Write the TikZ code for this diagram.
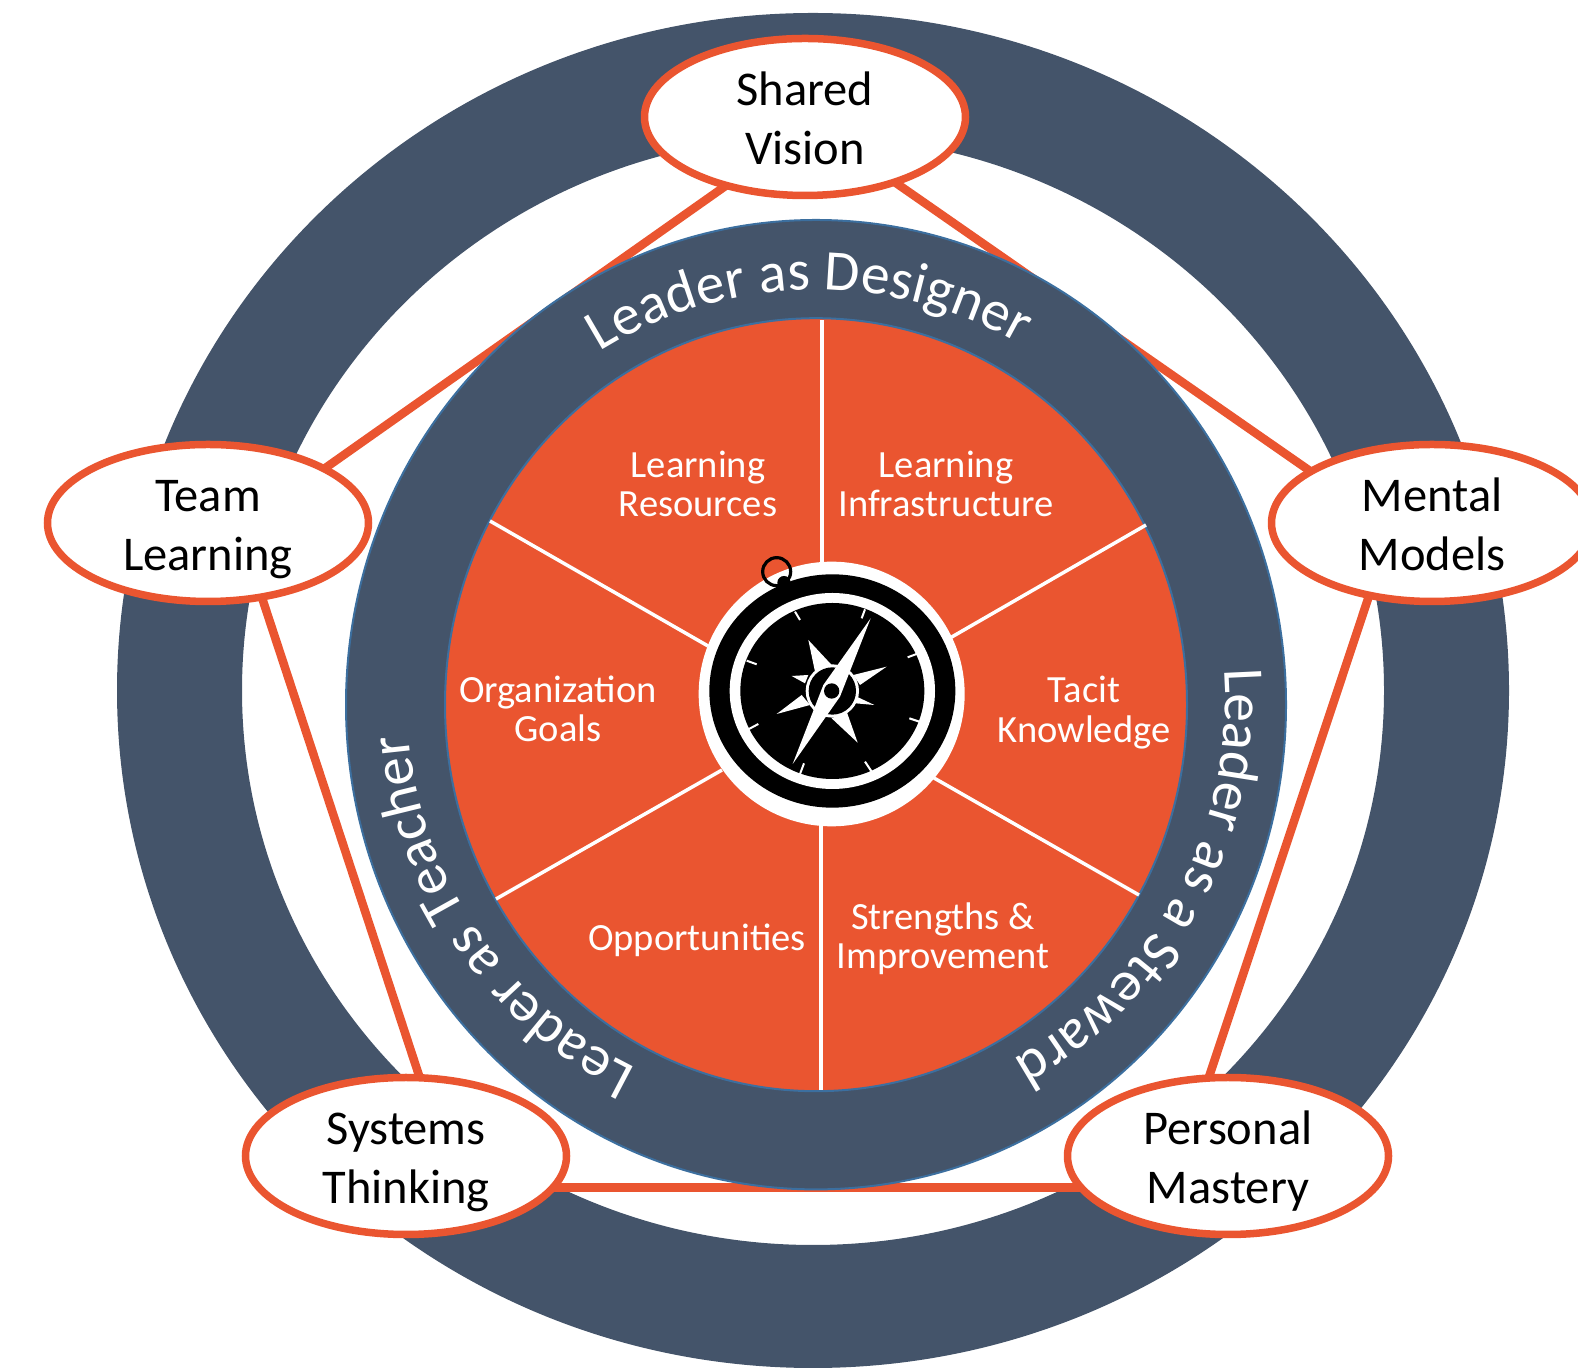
\documentclass[tikz,border=0pt]{standalone}
\usepackage{fontspec}
\setmainfont{Carlito}
\usetikzlibrary{shapes.geometric,decorations.text}
\definecolor{slatebg}{HTML}{44546A}
\definecolor{rust}{HTML}{EA5530}
\definecolor{ringedge}{HTML}{3C6F9F}
\pgfdeclarelayer{base}\pgfdeclarelayer{conn}\pgfdeclarelayer{mid}
\pgfsetlayers{base,conn,mid,main}
\newcommand\ringfont{\fontsize{57.5}{62}\selectfont}
\newcommand\lstrut{\rule[-10pt]{0pt}{56.5pt}}
\tikzset{
 discipline/.style={ellipse,draw=rust,line width=7.5pt,fill=white,minimum width=321pt,minimum height=157pt,inner xsep=0pt,inner ysep=-2.5pt,outer sep=0pt,align=center,text=black,font=\fontsize{48.5}{58.5}\selectfont},
 link/.style={draw=rust,line width=8.5pt},
 spoke/.style={draw=white,line width=3.5pt},
 wedge label/.style={text=white,align=center,inner sep=0pt,font=\fontsize{38.5}{39.5}\selectfont},
 ring text/.style={decorate,decoration={text along path,text align=center,text color=white,text={|\ringfont|#1}}},
}
\begin{document}
\begin{tikzpicture}[x=1pt,y=1pt]
\useasboundingbox (0,0) rectangle (1578,1367);
\begin{scope}[y=-1pt,yshift=1367pt]
 % discipline ellipses
 \node[discipline] (sv) at (805,117) {Shared\lstrut\\Vision\lstrut};
 \node[discipline] (tl) at (208,523) {Team\lstrut\\Learning\lstrut};
 \node[discipline] (mm) at (1432,523) {Mental\lstrut\\Models\lstrut};
 \node[discipline] (st) at (406,1156) {Systems\lstrut\\Thinking\lstrut};
 \node[discipline] (pm) at (1228,1156) {Personal\lstrut\\Mastery\lstrut};

 \begin{pgfonlayer}{base}
  \fill[slatebg,even odd rule] (813,690.5) ellipse [x radius=696,y radius=677.5]
      (813,690.5) ellipse [x radius=571,y radius=554.5];
 \end{pgfonlayer}

 \begin{pgfonlayer}{conn}
  \draw[link] (sv.221) -- (tl.25);
  \draw[link] (sv.-36) -- (mm.157);
  \draw[link] (tl.-54.5) -- (st.80.6);
  \draw[link] (mm.229) -- (pm.104);
  \draw[link] (st.-12.4) -- (pm.192.4);
 \end{pgfonlayer}

 \begin{pgfonlayer}{mid}
  \filldraw[fill=slatebg,draw=ringedge,line width=2pt] (816,704.7) ellipse [x radius=470,y radius=484.7];
  \filldraw[fill=rust,draw=ringedge,line width=2pt] (816,704.7) ellipse [x radius=371,y radius=386.5];
  \coordinate (s1a) at (822,320); \coordinate (s1b) at (822,565);
  \coordinate (s2a) at (1146,525); \coordinate (s2b) at (950,638);
  \coordinate (s3a) at (1139,895); \coordinate (s3b) at (934,778);
  \coordinate (s4a) at (821,1090); \coordinate (s4b) at (821,820);
  \coordinate (s5a) at (496,899); \coordinate (s5b) at (722,770);
  \coordinate (s6a) at (490,521); \coordinate (s6b) at (708,646);
  \foreach \i in {1,...,6} \draw[spoke] (s\i a) -- (s\i b);
  % compass, drawn in the coordinates of a 3x crop
  \begin{scope}[shift={(680,540)},x=0.33333pt,y=-0.33333pt]
   \fill[white] (455,462) ellipse [x radius=399,y radius=397];
   \draw[black,line width=3.2pt] (290,95) circle [radius=42];
   \fill[black] (312,128) circle [radius=20];
   \fill[black] (457,453) ellipse [x radius=369,y radius=350];
   \fill[white] (457,453) ellipse [x radius=308,y radius=294];
   \fill[black] (457,453) ellipse [x radius=276,y radius=264];
   \foreach \a/\b/\c/\d in {345/215/360/240,555/208/545/235,683/352/715/340,688/535/718/545,555/665/575/695,372/670/360/702,200/362/230/373,235/552/205/568}
     \draw[white,line width=2pt] (\a,\b) -- (\c,\d);
   \fill[white] (385,300) -- (455,375) -- (405,395) -- cycle;
   \fill[white] (620,380) -- (540,435) -- (520,405) -- cycle;
   \fill[white] (533,608) -- (455,535) -- (500,515) -- cycle;
   \fill[white] (290,522) -- (365,465) -- (390,495) -- cycle;
   \fill[white] (335,408) -- (385,405) -- (375,430) -- cycle;
   \fill[white] (583,495) -- (530,470) -- (527,490) -- cycle;
   \fill[white] (457,453) circle [radius=80];
   \fill[black] (457,453) circle [radius=71];
   \fill[white] (572,235) -- (480,470) -- (338,672) -- (430,435) -- cycle;
   \fill[black] (455,453) circle [radius=23];
  \end{scope}
 \end{pgfonlayer}

 % wedge labels
 \node[wedge label] (w1) at (698,484) {Learning\\Resources};
 \node[wedge label] (w2) at (946,484) {Learning\\Infrastructure};
 \node[wedge label] (w3) at (1084,712.5) {Tacit\\Knowledge};
 \node[wedge label] (w4) at (943,938.5) {Strengths \&\\Improvement};
 \node[wedge label] (w5) at (697,940) {Opportunities};
 \node[wedge label] (w6) at (558,709) {Organization\\Goals};
\end{scope}
% curved ring titles (y up)
\coordinate (M) at (816,667);
\path[ring text={Leader as Designer}] ([shift={(165:409 and 410)}]M) arc[start angle=165,end angle=17,x radius=409,y radius=410];
\path[ring text={Leader as a Steward}] ([shift={(65:409 and 410)}]M) arc[start angle=65,end angle=-122,x radius=409,y radius=410];
\path[ring text={Leader as Teacher}] ([shift={(300.5:409 and 410)}]M) arc[start angle=300.5,end angle=128.5,x radius=409,y radius=410];
\end{tikzpicture}
\end{document}
